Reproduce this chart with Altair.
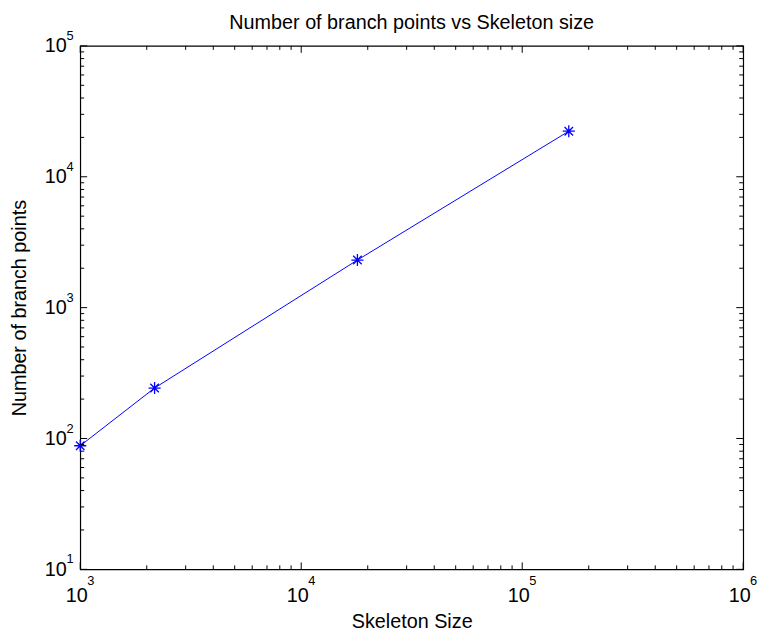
import altair as alt
import pandas as pd

# Data
skeleton_size = [1000, 2170, 17960, 162500]
branch_points = [88, 243, 2310, 22300]

x_decades = [1e3, 1e4, 1e5, 1e6]
x_exponents = ["3", "4", "5", "6"]
y_decades = [1e1, 1e2, 1e3, 1e4, 1e5]
y_exponents = ["1", "2", "3", "4", "5"]
minor_mult = [2, 3, 4, 5, 6, 7, 8, 9]

W, H = 670, 529
FONT = "Liberation Sans"
BLUE = "#0000ff"

df = pd.DataFrame({"size": skeleton_size, "bp": branch_points})
x_minor = pd.DataFrame({"v": [d * m for d in x_decades[:-1] for m in minor_mult]})
y_minor = pd.DataFrame({"v": [d * m for d in y_decades[:-1] for m in minor_mult]})
x_major = pd.DataFrame({"v": x_decades, "e": x_exponents})
y_major = pd.DataFrame({"v": y_decades, "e": y_exponents})

xscale = alt.Scale(type="log", domain=[1e3, 1e6])
yscale = alt.Scale(type="log", domain=[1e1, 1e5])

x_axis = alt.Axis(values=x_decades, labelExpr="'10'", ticks=False, domain=False, grid=False,
                  labelFont=FONT, labelFontSize=20, labelColor="#000", labelPadding=17,
                  labelOffset=-4, labelFlush=False, labelOverlap=False,
                  title="Skeleton Size", titleFont=FONT, titleFontSize=20,
                  titleFontWeight="normal", titleColor="#000", titlePadding=6)
y_axis = alt.Axis(values=y_decades, labelExpr="'10'", ticks=False, domain=False, grid=False,
                  labelFont=FONT, labelFontSize=20, labelColor="#000", labelPadding=14,
                  labelFlush=False, labelOverlap=False, labelBaseline="middle",
                  title="Number of branch points", titleFont=FONT, titleFontSize=20,
                  titleFontWeight="normal", titleColor="#000", titlePadding=15)

base = alt.Chart(df)

line = base.mark_line(color=BLUE, strokeWidth=1, clip=True).encode(
    x=alt.X("size:Q", scale=xscale, axis=x_axis),
    y=alt.Y("bp:Q", scale=yscale, axis=y_axis),
)

asterisk = "M-1,0L1,0M0,-1L0,1M-0.7,-0.7L0.7,0.7M-0.7,0.7L0.7,-0.7"
points = base.mark_point(shape=asterisk, filled=False, color=BLUE, size=150,
                         strokeWidth=1.3, opacity=1).encode(
    x=alt.X("size:Q", scale=xscale),
    y=alt.Y("bp:Q", scale=yscale),
)

# exponents of the tick labels (superscripts)
x_exp = alt.Chart(x_major).mark_text(font=FONT, fontSize=13, color="#000", align="left",
                                      baseline="middle", dx=7).encode(
    x=alt.X("v:Q", scale=xscale), y=alt.value(H + 12), text="e:N")
y_exp = alt.Chart(y_major).mark_text(font=FONT, fontSize=13, color="#000", align="left",
                                      baseline="middle", dy=-10).encode(
    y=alt.Y("v:Q", scale=yscale), x=alt.value(-14), text="e:N")

def yticks(data, length):
    left = alt.Chart(data).mark_rule(color="#000", strokeWidth=1).encode(
        y=alt.Y("v:Q", scale=yscale), x=alt.value(0), x2=alt.value(length))
    right = alt.Chart(data).mark_rule(color="#000", strokeWidth=1).encode(
        y=alt.Y("v:Q", scale=yscale), x=alt.value(W), x2=alt.value(W - length))
    return [left, right]

def xticks(data, length):
    bottom = alt.Chart(data).mark_rule(color="#000", strokeWidth=1).encode(
        x=alt.X("v:Q", scale=xscale), y=alt.value(H), y2=alt.value(H - length))
    top = alt.Chart(data).mark_rule(color="#000", strokeWidth=1).encode(
        x=alt.X("v:Q", scale=xscale), y=alt.value(0), y2=alt.value(length))
    return [bottom, top]

ticks = yticks(y_minor, 4) + yticks(y_major, 7) + xticks(x_minor, 4) + xticks(x_major, 7)

chart = alt.layer(line, points, x_exp, y_exp, *ticks).properties(
    width=W, height=H,
    title=alt.TitleParams("Number of branch points vs Skeleton size", font=FONT,
                          fontSize=20, fontWeight="normal", color="#000", offset=-3),
    autosize=alt.AutoSizeParams(type="none"),
    padding={"left": 73, "top": 35, "right": 18, "bottom": 60},
).configure_view(stroke="#000", strokeWidth=1.2)

chart.save("out.html", embed_options={"renderer": "svg", "actions": False})
